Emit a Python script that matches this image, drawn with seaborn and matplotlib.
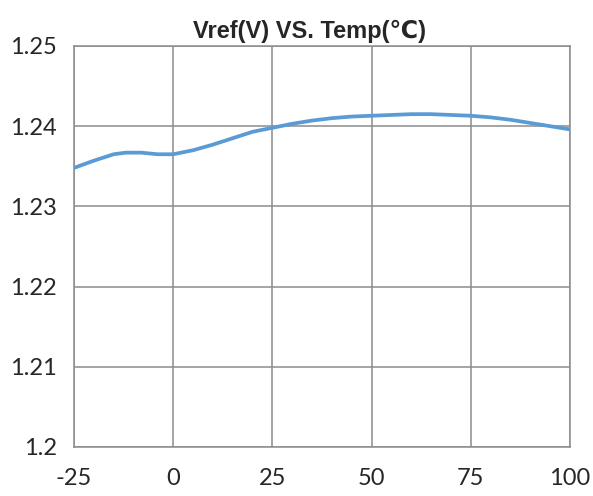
import pandas as pd
import numpy as np
import seaborn as sns
import matplotlib
matplotlib.use('Agg')
import matplotlib.pyplot as plt

temp = [-25, -20, -15, -12, -8, -4, 0, 5, 10, 15, 20, 25, 30, 35, 40, 45,
        50, 55, 60, 65, 70, 75, 80, 85, 90, 95, 100]
vref = [1.2348, 1.2357, 1.2365, 1.2367, 1.2367, 1.2365, 1.2365, 1.2370, 1.2377,
        1.2385, 1.2393, 1.2398, 1.2403, 1.2407, 1.2410, 1.2412, 1.2413, 1.2414,
        1.2415, 1.2415, 1.2414, 1.2413, 1.2411, 1.2408, 1.2404, 1.2400, 1.2396]
x_ticks = [-25, 0, 25, 50, 75, 100]
x_labels = ['-25', '0', '25', '50', '75', '100']
y_ticks = [1.20, 1.21, 1.22, 1.23, 1.24, 1.25]
y_labels = ['1.2', '1.21', '1.22', '1.23', '1.24', '1.25']

df = pd.DataFrame({'Temp': temp, 'Vref': vref})

sns.set_style('white')
plt.rcParams['font.family'] = ['Lato', 'DejaVu Sans']
plt.rcParams['axes.unicode_minus'] = False

fig = plt.figure(figsize=(5.93, 4.96), dpi=100)
ax = fig.add_axes([0.1248, 0.0988, 0.8364, 0.8085])

grid_color = '#8c8c8c'

sns.lineplot(data=df, x='Temp', y='Vref', ax=ax, color='#5b9bd5', linewidth=2.7, zorder=3)

ax.set_xlim(-25, 100)
ax.set_ylim(1.20, 1.25)
ax.set_xticks(x_ticks)
ax.set_xticklabels(x_labels)
ax.set_yticks(y_ticks)
ax.set_yticklabels(y_labels)
ax.set_xlabel('')
ax.set_ylabel('')

ax.grid(True, color=grid_color, linewidth=1.1, zorder=0)
for s in ax.spines.values():
    s.set_color(grid_color)
    s.set_linewidth(1.1)

ax.tick_params(axis='y', length=6.5, width=1.1, color=grid_color, pad=6, labelsize=17)
ax.tick_params(axis='x', length=0, pad=15, labelsize=17)

ax.set_title('Vref(V) VS. Temp(℃)', fontsize=17, fontweight='bold',
             family=['Liberation Sans', 'DejaVu Sans'], x=0.474, pad=6)

fig.savefig('out.png', dpi=100)
